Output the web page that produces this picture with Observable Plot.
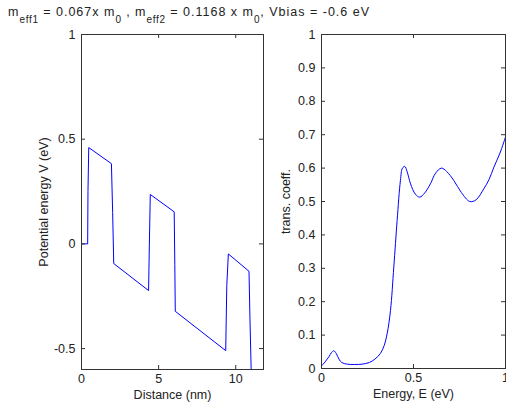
<!DOCTYPE html>
<html>
<head>
<meta charset="utf-8">
<script src="https://cdn.jsdelivr.net/npm/d3@7"></script>
<script src="https://cdn.jsdelivr.net/npm/@observablehq/plot@0.6"></script>
<style>
  html, body { margin: 0; padding: 0; background: #fff; }
  #wrap { position: relative; width: 506px; height: 407px; overflow: hidden; font-family: "Liberation Sans", Arial, sans-serif; color: #222; }
  #title { position: absolute; left: 8px; top: 5px; font-size: 12.5px; line-height: 15px; white-space: nowrap; z-index: 5; letter-spacing: 1px; }
  #title sub { font-size: 10px; vertical-align: -7px; line-height: 0; letter-spacing: 0.7px; }
  .p { position: absolute; top: 0; }
</style>
</head>
<body>
<div id="wrap">
  <div id="p1" class="p" style="left:0px"></div>
  <div id="p2" class="p" style="left:270px"></div>
  <div id="title">m<sub>eff1</sub> = 0.067x m<sub>0</sub> , m<sub>eff2</sub> = 0.1168 x m<sub>0</sub>, Vbias = -0.6 eV</div>
</div>
<script>
// Left panel: potential profile
const distance = [0, 0.4, 0.42, 0.47, 1.94, 2.02, 2.09, 4.35, 4.4, 4.46, 6.01, 6.05, 6.08, 9.35, 9.42, 9.52, 10.86, 10.92, 11.0, 11.8];
const potential = [0, 0, 0.25, 0.46, 0.383, 0.15, -0.094, -0.223, 0.0, 0.236, 0.153, -0.1, -0.322, -0.51, -0.2, -0.048, -0.131, -0.35, -0.6, -0.6];
const distTicks = [0, 5, 10];
const potTicks = [-0.5, 0, 0.5, 1];

// Right panel: transmission coefficient
const energy = [0, 0.02, 0.04, 0.055, 0.067, 0.08, 0.095, 0.11, 0.14, 0.18, 0.22, 0.26, 0.29, 0.32, 0.34, 0.357, 0.375, 0.393, 0.411, 0.429, 0.44, 0.453, 0.465, 0.484, 0.51, 0.534, 0.56, 0.592, 0.62, 0.652, 0.68, 0.719, 0.76, 0.806, 0.84, 0.882, 0.91, 0.937, 0.97, 1.0];
const trans = [0.008, 0.02, 0.035, 0.048, 0.053, 0.045, 0.028, 0.018, 0.013, 0.012, 0.013, 0.018, 0.028, 0.045, 0.068, 0.105, 0.174, 0.304, 0.443, 0.563, 0.6, 0.605, 0.59, 0.553, 0.522, 0.513, 0.525, 0.553, 0.585, 0.6, 0.59, 0.563, 0.527, 0.5, 0.505, 0.538, 0.565, 0.603, 0.645, 0.693];
const energyTicks = [0, 0.5, 1];
const transTicks = [0, 0.1, 0.2, 0.3, 0.4, 0.5, 0.6, 0.7, 0.8, 0.9, 1];

const potData = distance.map((d, i) => ({x: d, y: potential[i]}));
const trData = energy.map((e, i) => ({x: e, y: trans[i]}));

const fmt = d => String(d);
const TXT = "#222", AX = "#333";
const TS = 4;

function axesMarks(xt, yt, fw, fh) {
  return [
    Plot.axisX(xt, {anchor: "bottom", tickSize: 0, tickPadding: 5, tickFormat: fmt, label: null, fill: TXT, fontSize: 12.5}),
    Plot.axisY(yt, {anchor: "left", tickSize: 0, tickPadding: 6, tickFormat: fmt, label: null, fill: TXT, fontSize: 12.5}),
    // inward tick marks on all four sides
    Plot.ruleX(xt, {x: d => d, insetTop: fh - TS, stroke: AX}),
    Plot.ruleX(xt, {x: d => d, insetBottom: fh - TS, stroke: AX}),
    Plot.ruleY(yt, {y: d => d, insetRight: fw - TS, stroke: AX}),
    Plot.ruleY(yt, {y: d => d, insetLeft: fw - TS, stroke: AX}),
    Plot.frame({stroke: AX, strokeWidth: 1})
  ];
}

const W1 = 270, H1 = 407, L1 = 81, R1 = 7, T1 = 34, B1 = 38;
const p1 = Plot.plot({
  width: W1, height: H1,
  marginLeft: L1, marginRight: R1, marginTop: T1, marginBottom: B1,
  style: {fontFamily: "'Liberation Sans', Arial, sans-serif", background: "white"},
  x: {domain: [0, 11.8]},
  y: {domain: [-0.6, 1]},
  marks: [
    Plot.line(potData, {x: "x", y: "y", stroke: "#0000ff", strokeWidth: 1}),
    ...axesMarks(distTicks, potTicks, W1 - L1 - R1, H1 - T1 - B1),
    Plot.text(["Distance (nm)"], {frameAnchor: "bottom", dy: 29, fontSize: 12.5, fill: TXT}),
    Plot.text(["Potential energy V (eV)"], {frameAnchor: "left", dx: -38, rotate: -90, textAnchor: "middle", fontSize: 12.5, fill: TXT})
  ]
});
document.getElementById("p1").appendChild(p1);

const W2 = 236, H2 = 407, L2 = 51, R2 = 1, T2 = 34, B2 = 39;
const p2 = Plot.plot({
  width: W2, height: H2,
  marginLeft: L2, marginRight: R2, marginTop: T2, marginBottom: B2,
  style: {fontFamily: "'Liberation Sans', Arial, sans-serif", background: "white"},
  x: {domain: [0, 1]},
  y: {domain: [0, 1]},
  marks: [
    Plot.line(trData, {x: "x", y: "y", stroke: "#0000ff", strokeWidth: 1, curve: "catmull-rom"}),
    ...axesMarks(energyTicks, transTicks, W2 - L2 - R2, H2 - T2 - B2),
    Plot.text(["Energy, E (eV)"], {frameAnchor: "bottom", dy: 29, fontSize: 12.5, fill: TXT}),
    Plot.text(["trans. coeff."], {frameAnchor: "left", dx: -36, rotate: -90, textAnchor: "middle", fontSize: 12.5, fill: TXT})
  ]
});
document.getElementById("p2").appendChild(p2);
</script>
</body>
</html>
